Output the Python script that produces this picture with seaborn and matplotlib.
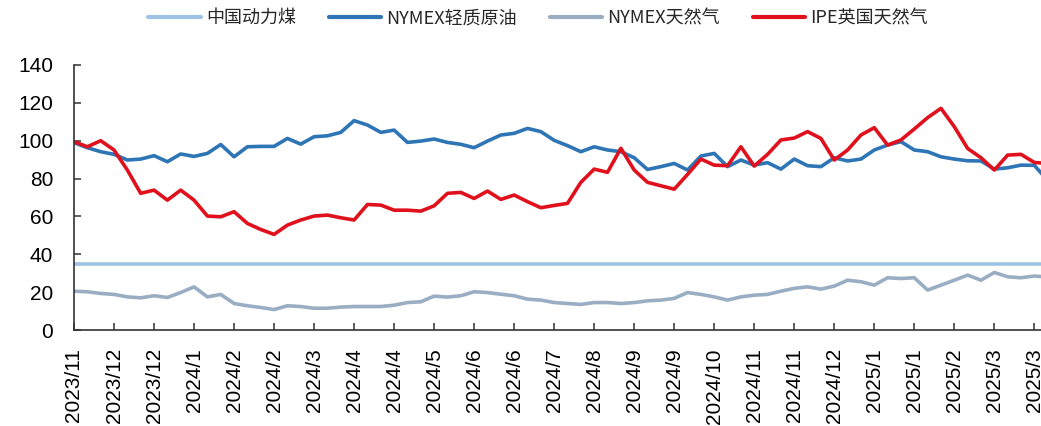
import matplotlib
matplotlib.use("Agg")
import matplotlib.pyplot as plt
import numpy as np
import pandas as pd
import seaborn as sns

# ---------------- data (weekly) ----------------
series_names = ["中国动力煤", "NYMEX轻质原油", "NYMEX天然气", "IPE英国天然气"]

crude = [99.0, 96.3, 94.2, 92.8, 89.8, 90.3, 92.1, 88.9, 93.0, 91.7,
         93.3, 98.0, 91.5, 96.8, 97.0, 97.0, 101.2, 98.2, 102.1, 102.6,
         104.4, 110.6, 108.3, 104.4, 105.6, 99.1, 99.8, 100.9, 99.1, 98.1,
         96.3, 99.8, 103.0, 103.9, 106.5, 104.8, 100.2, 97.4, 94.2, 96.8,
         95.1, 94.2, 91.0, 84.8, 86.3, 88.0, 84.5, 91.9, 93.3, 86.3,
         89.8, 87.1, 88.4, 85.0, 90.3, 86.8, 86.3, 91.0, 89.3, 90.3,
         95.1, 97.7, 99.5, 95.1, 94.2, 91.5, 90.3, 89.4, 89.3, 85.0,
         85.7, 87.1, 87.0, 79.0]

uk_gas = [99.5, 96.8, 100.0, 95.1, 84.5, 72.2, 73.9, 68.6, 73.9, 68.6,
          60.2, 59.8, 62.5, 56.3, 53.1, 50.5, 55.4, 58.1, 60.2, 60.7,
          59.3, 58.1, 66.3, 66.0, 63.3, 63.3, 62.8, 65.6, 72.2, 72.7,
          69.5, 73.4, 69.0, 71.3, 67.8, 64.6, 65.8, 66.9, 78.0, 85.0,
          83.3, 96.0, 84.5, 78.0, 76.2, 74.4, 82.2, 90.3, 87.1, 86.8,
          96.8, 86.6, 92.8, 100.4, 101.4, 104.8, 101.2, 89.8, 95.1, 103.0,
          106.9, 97.7, 100.4, 106.2, 112.2, 117.1, 107.4, 95.9, 91.0, 84.5,
          92.4, 92.8, 88.5, 88.0]

us_gas = [20.5, 20.2, 19.3, 18.8, 17.5, 17.0, 18.1, 17.2, 19.8, 22.8,
          17.5, 18.8, 14.0, 12.8, 11.9, 10.8, 12.8, 12.4, 11.5, 11.5,
          12.1, 12.4, 12.4, 12.4, 13.1, 14.5, 14.9, 17.9, 17.4, 18.1,
          20.2, 19.8, 18.9, 18.1, 16.3, 15.8, 14.5, 14.0, 13.5, 14.5,
          14.5, 14.0, 14.5, 15.4, 15.8, 16.7, 19.8, 18.8, 17.5, 15.8,
          17.5, 18.4, 18.8, 20.5, 22.0, 22.8, 21.6, 23.2, 26.3, 25.5,
          23.7, 27.6, 27.2, 27.6, 21.1, 23.7, 26.3, 29.0, 26.3, 30.4,
          28.1, 27.6, 28.5, 28.0]

coal = [35.0] * len(crude)

tick_labels = ["2023/11", "2023/12", "2023/12", "2024/1", "2024/2", "2024/2",
               "2024/3", "2024/4", "2024/4", "2024/5", "2024/6", "2024/6",
               "2024/7", "2024/8", "2024/9", "2024/9", "2024/10", "2024/11",
               "2024/11", "2024/12", "2025/1", "2025/1", "2025/2", "2025/3",
               "2025/3"]

colors = ["#9DC3E6", "#2E75B6", "#9AAEC3", "#E0101C"]

# ---------------- build frame ----------------
weeks = np.arange(len(crude))
df = pd.concat([
    pd.DataFrame({"week": weeks, "value": vals, "series": name})
    for name, vals in zip(series_names, [coal, crude, us_gas, uk_gas])
], ignore_index=True)

sns.set_style("ticks")
plt.rcParams["font.family"] = ["Liberation Sans", "Noto Sans CJK SC", "DejaVu Sans"]

W, H = 1041, 426
fig = plt.figure(figsize=(W / 100, H / 100), dpi=100)
ax = fig.add_axes([74 / W, 1 - 330 / H, 1 - 74 / W, (330 - 65) / H])

sns.lineplot(data=df, x="week", y="value", hue="series", hue_order=series_names,
             palette=colors, linewidth=2.6, ax=ax, sort=False)

ax.set_xlim(0, 72.5)
ax.set_ylim(0, 140)
ax.set_yticks(np.arange(0, 141, 20))
ax.set_xticks(np.arange(0, 3 * len(tick_labels), 3))
ax.set_xticklabels(tick_labels, rotation=90, ha="center", va="top")
ax.set_xlabel("")
ax.set_ylabel("")

for s in ["top", "right"]:
    ax.spines[s].set_visible(False)
for s in ["left", "bottom"]:
    ax.spines[s].set_color("#333333")
    ax.spines[s].set_linewidth(1.2)

ax.tick_params(axis="both", direction="in", length=5, width=1.1,
               color="#333333", labelsize=15, labelcolor="black")
ax.tick_params(axis="y", pad=15)
ax.tick_params(axis="x", pad=13)

sns.move_legend(ax, "center", bbox_to_anchor=(0.48, 1.177), ncol=4,
                frameon=False, handlelength=2.9, columnspacing=1.8,
                handletextpad=0.3, title=None,
                prop={"family": ["Noto Sans CJK SC", "DejaVu Sans"], "size": 13})
for line in ax.get_legend().get_lines():
    line.set_linewidth(3)

fig.savefig("out.png", dpi=100)
